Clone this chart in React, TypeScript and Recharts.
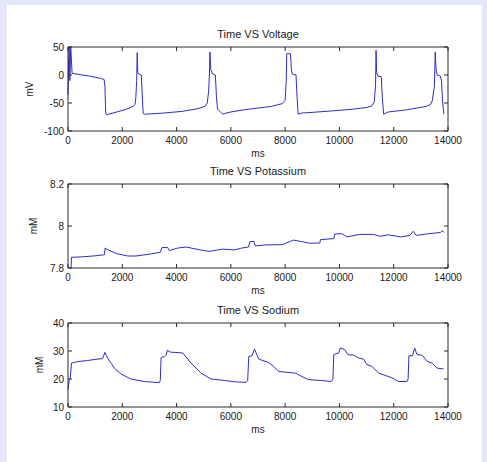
import { LineChart, Line, XAxis, YAxis, Label } from 'recharts'

const TIME_TICKS = [0, 2000, 4000, 6000, 8000, 10000, 12000, 14000]

// Time VS Voltage
const voltageT = [
  0, 40, 70, 100, 150, 400, 800, 1200, 1330, 1360, 1390, 1420, 1500, 1800, 2100, 2400, 2470, 2500, 2530,
  2550, 2570, 2600, 2700, 2730, 2770, 2850, 3500, 4200, 4800, 5050, 5130, 5180, 5210, 5230, 5260, 5320,
  5430, 5470, 5510, 5600, 5700, 5760, 6000, 6500, 7000, 7500, 7900, 8000, 8040, 8060, 8200, 8230, 8260,
  8400, 8440, 8480, 8600, 9500, 10500, 11000, 11200, 11280, 11330, 11350, 11370, 11420, 11540, 11580,
  11630, 11800, 12500, 13200, 13350, 13420, 13500, 13530, 13560, 13600, 13720, 13760, 13800, 13850,
]
const voltageMv = [
  -35, 55, -10, 52, 3, 1, -2, -6, -8, -20, -68, -71, -70, -66, -62, -56, -52, -40, -10,
  40, 5, 2, 0, -30, -69, -70, -68, -65, -60, -56, -50, -30, 0, 41, 10, 2,
  0, -40, -61, -65, -70, -69, -66, -62, -59, -56, -51, -45, -10, 38, 38, 10, 2,
  0, -40, -70, -68, -65, -61, -58, -55, -48, -20, 44, 5, -2, -3, -40,
  -70, -66, -62, -56, -53, -46, -20, 41, 10, 0, -2, -10, -48, -70,
]

// Time VS Potassium
const potassiumT = [
  110, 130, 500, 1000, 1340, 1370, 1500, 1800, 2200, 2500, 2950, 3400, 3460, 3670, 3730, 4040, 4350,
  4800, 5200, 5700, 6130, 6400, 6650, 6700, 6850, 6900, 7300, 7900, 8300, 8560, 8900, 9280, 9300, 9790,
  9830, 10100, 10280, 10750, 11250, 11500, 11800, 12250, 12600, 12720, 12830, 13200, 13720, 13790, 13850,
]
const potassiumMm = [
  7.8, 7.851, 7.853, 7.858, 7.863, 7.895, 7.885, 7.868, 7.857, 7.857, 7.865, 7.875, 7.897, 7.898, 7.883,
  7.895, 7.9, 7.888, 7.879, 7.89, 7.886, 7.895, 7.9, 7.925, 7.927, 7.905, 7.91, 7.911, 7.933, 7.927, 7.918,
  7.919, 7.935, 7.94, 7.962, 7.963, 7.948, 7.96, 7.96, 7.951, 7.958, 7.948, 7.955, 7.975, 7.955, 7.962,
  7.969, 7.978, 7.969,
]

// Time VS Sodium
const sodiumT = [
  0, 50, 80, 130, 355, 720, 1000, 1275, 1360, 1460, 1600, 1705, 1950, 2320, 2810, 3365, 3400, 3430, 3560,
  3620, 3660, 3770, 4230, 4530, 4900, 5270, 5760, 6130, 6560, 6620, 6660, 6780, 6870, 7025, 7390, 7575,
  7760, 8375, 8620, 8865, 9295, 9700, 9760, 9790, 9970, 10035, 10190, 10315, 10530, 10710, 10890, 11015,
  11200, 11445, 11630, 11940, 12180, 12490, 12530, 12560, 12695, 12770, 12860, 13045, 13230, 13410,
  13595, 13840,
]
const sodiumMm = [
  16.2, 19.8, 20, 25.7, 26.2, 26.6, 27, 27.3, 29.5, 27.4, 25.5, 23.9, 21.8, 20, 19.1, 18.7, 19.5, 27.7, 28,
  28.5, 30.3, 29.6, 29.3, 25.7, 22.1, 20, 19.5, 19, 18.8, 19.5, 28.1, 28.3, 30.7, 27.1, 25.9, 24.5,
  22.7, 22.1, 20.9, 19.75, 19.5, 19.1, 20, 28.7, 29.3, 31.1, 30.5, 28.7, 28.5, 27.5, 27.1, 25.1,
  24.5, 22.1, 21.5, 20.4, 19.1, 19.1, 20, 28.3, 28.3, 31.1, 28.7, 28.5, 26.3, 25.7,
  23.9, 23.6,
]

const W = 487
const H = 462
const AXIS = '#2a2a2a'
const TEXT = '#1a1a1a'
const LINE = '#2c2cd2'
const TICK_LEN = 4

// plot box edges (px), shared by all panels horizontally
const PLOT_LEFT = 68
const PLOT_RIGHT = 448

const toRows = (t: number[], v: number[]) => t.map((x, i) => ({ t: x, v: v[i] }))

const BottomTick = (props: any) => {
  const { x, y, payload } = props
  return (
    <g>
      <line x1={x} y1={y} x2={x} y2={y - TICK_LEN} stroke={AXIS} />
      <text x={x} y={y + 13} textAnchor="middle" fontSize={10} fill={TEXT}>
        {payload.value}
      </text>
    </g>
  )
}

const TopTick = (props: any) => (
  <line x1={props.x} y1={props.y} x2={props.x} y2={props.y + TICK_LEN} stroke={AXIS} />
)

const LeftTick = (props: any) => {
  const { x, y, payload } = props
  return (
    <g>
      <line x1={x} y1={y} x2={x + TICK_LEN} y2={y} stroke={AXIS} />
      <text x={x - 4} y={y + 3.5} textAnchor="end" fontSize={10} fill={TEXT}>
        {payload.value}
      </text>
    </g>
  )
}

const RightTick = (props: any) => (
  <line x1={props.x} y1={props.y} x2={props.x - TICK_LEN} y2={props.y} stroke={AXIS} />
)

const yTitle = (text: string, dist: number) => (props: any) => {
  const vb = props.viewBox || { x: PLOT_LEFT - 1, y: 0, width: 1, height: 0 }
  const cx = vb.x + vb.width - dist
  const cy = vb.y + vb.height / 2
  return (
    <text
      x={cx}
      y={cy}
      transform={`rotate(-90 ${cx} ${cy})`}
      textAnchor="middle"
      dominantBaseline="central"
      fontSize={10}
      fill={TEXT}
    >
      {text}
    </text>
  )
}

interface PanelProps {
  title: string
  unit: string
  unitDist: number
  rows: { t: number; v: number }[]
  yDomain: [number, number]
  yTicks: number[]
  plotTop: number
  plotBottom: number
}

function Panel({ title, unit, unitDist, rows, yDomain, yTicks, plotTop, plotBottom }: PanelProps) {
  // axes take 1px each, so margins stop 1px short of the plot box
  const margin = {
    top: plotTop - 1,
    bottom: H - plotBottom - 1,
    left: PLOT_LEFT - 1,
    right: W - PLOT_RIGHT - 1,
  }
  return (
    <div style={{ position: 'absolute', left: 0, top: 0 }}>
      <LineChart width={W} height={H} data={rows} margin={margin}>
        <XAxis
          xAxisId="b"
          dataKey="t"
          type="number"
          domain={[0, 14000]}
          ticks={TIME_TICKS}
          height={1}
          tickSize={0}
          tickMargin={0}
          tick={BottomTick}
          stroke={AXIS}
          interval={0}
        >
          <Label value="ms" position="bottom" offset={18} fontSize={10} fill={TEXT} />
        </XAxis>
        <XAxis
          xAxisId="t"
          orientation="top"
          dataKey="t"
          type="number"
          domain={[0, 14000]}
          ticks={TIME_TICKS}
          height={1}
          tickSize={0}
          tickMargin={0}
          tick={TopTick}
          stroke={AXIS}
          interval={0}
        >
          <Label value={title} position="top" offset={8} fontSize={11} fill={TEXT} />
        </XAxis>
        <YAxis
          yAxisId="l"
          type="number"
          domain={yDomain}
          ticks={yTicks}
          allowDataOverflow
          width={1}
          tickSize={0}
          tickMargin={0}
          tick={LeftTick}
          stroke={AXIS}
          interval={0}
        >
          <Label content={yTitle(unit, unitDist)} />
        </YAxis>
        <YAxis
          yAxisId="r"
          orientation="right"
          type="number"
          domain={yDomain}
          ticks={yTicks}
          allowDataOverflow
          width={1}
          tickSize={0}
          tickMargin={0}
          tick={RightTick}
          stroke={AXIS}
          interval={0}
        />
        <Line
          xAxisId="b"
          yAxisId="l"
          dataKey="v"
          type="linear"
          stroke={LINE}
          strokeWidth={1}
          dot={false}
          isAnimationActive={false}
        />
        <Line
          xAxisId="t"
          yAxisId="r"
          dataKey="v"
          stroke="none"
          dot={false}
          activeDot={false}
          isAnimationActive={false}
        />
      </LineChart>
    </div>
  )
}

export default function App() {
  return (
    <div
      style={{
        position: 'absolute',
        left: 0,
        top: 0,
        width: W,
        height: H,
        background: '#e6e6fa',
        fontFamily: '"Liberation Sans", Arial, sans-serif',
        overflow: 'hidden',
      }}
    >
      <div style={{ position: 'absolute', left: 7, top: 5, width: 475, height: H - 5, background: '#ffffff' }} />
      <Panel
        title="Time VS Voltage"
        unit="mV"
        unitDist={39}
        rows={toRows(voltageT, voltageMv)}
        yDomain={[-100, 50]}
        yTicks={[-100, -50, 0, 50]}
        plotTop={47}
        plotBottom={131}
      />
      <Panel
        title="Time VS Potassium"
        unit="mM"
        unitDist={35}
        rows={toRows(potassiumT, potassiumMm)}
        yDomain={[7.8, 8.2]}
        yTicks={[7.8, 8, 8.2]}
        plotTop={184}
        plotBottom={268}
      />
      <Panel
        title="Time VS Sodium"
        unit="mM"
        unitDist={29}
        rows={toRows(sodiumT, sodiumMm)}
        yDomain={[10, 40]}
        yTicks={[10, 20, 30, 40]}
        plotTop={323}
        plotBottom={407}
      />
    </div>
  )
}
